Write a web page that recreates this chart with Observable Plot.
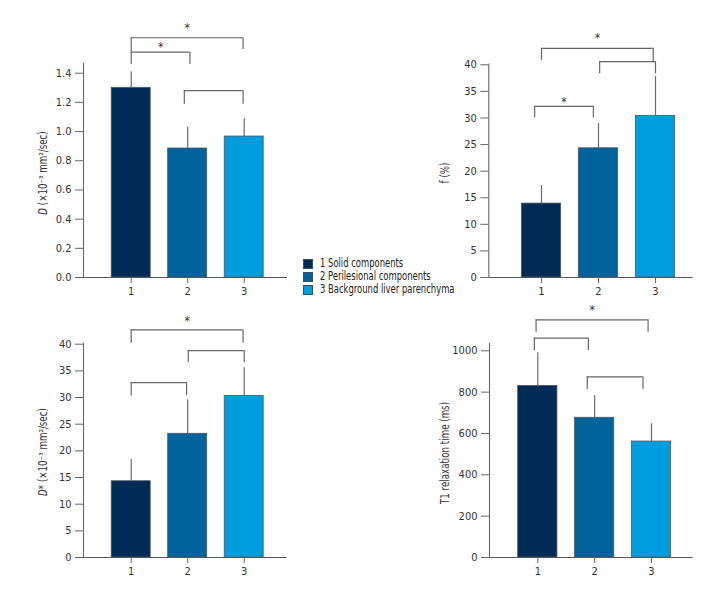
<!DOCTYPE html>
<html><head><meta charset="utf-8">
<script src="https://cdn.jsdelivr.net/npm/d3@7"></script>
<script src="https://cdn.jsdelivr.net/npm/@observablehq/plot@0.6"></script>
<style>
body{margin:0;background:#fff;}
#wrap{position:relative;width:720px;height:600px;font-family:'Liberation Sans Narrow','DejaVu Sans Condensed',sans-serif;font-stretch:condensed;color:#333;}
.panel{position:absolute;}
.ylab{position:absolute;transform:translate(-50%,-50%) rotate(-90deg) scaleX(0.84);white-space:nowrap;font-size:11.5px;color:#333;}
.legend{position:absolute;left:303px;top:257px;font-size:12px;line-height:13px;color:#222;}
.legend .row{display:flex;align-items:center;height:13px;}
.legend .txt{display:inline-block;transform:scaleX(0.78);transform-origin:left center;white-space:nowrap;}
.sw{width:8px;height:8px;border:1px solid #3a4d63;margin-right:7px;flex:none;}
</style></head><body><div id="wrap"></div>
<script>
// ---- data ----
const groups = [1, 2, 3];
const groupNames = ["Solid components", "Perilesional components", "Background liver parenchyma"];
const colors = ["#002b56", "#00639c", "#009ddc"];

// D (x10^-3 mm2/sec)
const dMean = [1.30, 0.884, 0.966];
const dSD   = [0.11, 0.146, 0.122];
const dTicks = [0, 0.2, 0.4, 0.6, 0.8, 1.0, 1.2, 1.4];
const dBrackets = [
  {a: 1, b: 2.04, y: 1.544, yA: 1.46, yB: 1.46, star: 1.597},
  {a: 1, b: 2.98, y: 1.643, yA: 1.544, yB: 1.563, star: 1.727},
  {a: 1.94, b: 2.98, y: 1.28, yA: 1.188, yB: 1.188, star: null}
];

// f (%)
const fMean = [13.9, 24.3, 30.4];
const fSD   = [3.4, 4.7, 7.4];
const fTicks = [0, 5, 10, 15, 20, 25, 30, 35, 40];
const fBrackets = [
  {a: 0.88, b: 1.91, y: 32.2, yA: 30.0, yB: 30.0, star: 33.5},
  {a: 1, b: 2.96, y: 43.1, yA: 40.8, yB: 40.6, star: 45.5},
  {a: 2.02, b: 3.0, y: 40.6, yA: 38.3, yB: 38.3, star: null}
];

// D* (x10^-3 mm2/sec)
const dsMean = [14.3, 23.2, 30.3];
const dsSD   = [4.1, 6.4, 5.3];
const dsTicks = [0, 5, 10, 15, 20, 25, 30, 35, 40];
const dsBrackets = [
  {a: 1, b: 1.98, y: 32.8, yA: 30.3, yB: 30.3, star: null},
  {a: 1, b: 2.98, y: 42.7, yA: 40.2, yB: 40.2, star: 44.8},
  {a: 2.01, b: 3.0, y: 38.8, yA: 36.5, yB: 36.5, star: null}
];

// T1 relaxation time (ms)
const tMean = [830, 676, 561];
const tSD   = [160, 106, 86];
const tTicks = [0, 200, 400, 600, 800, 1000];
const tBrackets = [
  {a: 0.94, b: 1.89, y: 1061, yA: 1001, yB: 1001, star: null},
  {a: 0.97, b: 2.94, y: 1150, yA: 1090, yB: 1090, star: 1211},
  {a: 1.87, b: 2.85, y: 874, yA: 813, yB: 813, star: null}
];

// ---- layout ----
const panels = [
  {left: 0, top: 0, mean: dMean, sd: dSD, ticks: dTicks, fmt: d3.format(".1f"), brackets: dBrackets,
   axisTop: 1.51, mL: 83, xEndPx: 287, zeroPx: 277, xr: [130.7, 243.7], yTopPx: 72.7,
   label: '<i>D</i> (×10⁻³ mm²/sec)', lx: 43, ly: 173},
  {left: 360, top: 0, mean: fMean, sd: fSD, ticks: fTicks, fmt: d3.format("d"), brackets: fBrackets,
   axisTop: 41.3, mL: 128.3, xEndPx: 332.7, zeroPx: 277, xr: [181, 295], yTopPx: 64.3,
   label: 'f (%)', lx: 445, ly: 173},
  {left: 0, top: 300, mean: dsMean, sd: dsSD, ticks: dsTicks, fmt: d3.format("d"), brackets: dsBrackets,
   axisTop: 41.3, mL: 83, xEndPx: 286.7, zeroPx: 257, xr: [130.7, 243.7], yTopPx: 43.7,
   label: '<i>D</i>* (×10⁻³ mm²/sec)', lx: 43, ly: 452},
  {left: 360, top: 300, mean: tMean, sd: tSD, ticks: tTicks, fmt: d3.format("d"), brackets: tBrackets,
   axisTop: 1066, mL: 129, xEndPx: 332.7, zeroPx: 257, xr: [177.3, 291], yTopPx: 50.3,
   label: 'T1 relaxation time (ms)', lx: 445, ly: 453}
];

const wrap = document.getElementById("wrap");
const W = 360, H = 300, halfBar = 0.345;
const font = "'Liberation Sans Narrow','DejaVu Sans Condensed',sans-serif";

for (const p of panels) {
  const rows = groups.map((g, i) => ({g, mean: p.mean[i], hi: p.mean[i] + p.sd[i], color: colors[i]}));
  const pxToX = px => 1 + (px - p.xr[0]) * 2 / (p.xr[1] - p.xr[0]);
  const xAxisVal = pxToX(p.mL), xEndVal = pxToX(p.xEndPx);
  const tickMax = p.ticks[p.ticks.length - 1];
  const br = p.brackets;
  const chart = Plot.plot({
    width: W, height: H,
    marginLeft: p.mL, marginRight: W - p.xEndPx, marginBottom: H - p.zeroPx, marginTop: 5,
    style: {fontFamily: font, fontSize: "11px", color: "#333", background: "transparent", overflow: "visible"},
    x: {type: "linear", domain: [1, 3], range: p.xr},
    y: {type: "linear", domain: [0, tickMax], range: [p.zeroPx, p.yTopPx]},
    marks: [
      Plot.rectY(rows, {x1: d => d.g - halfBar, x2: d => d.g + halfBar, y1: 0, y2: "mean", fill: "color", stroke: "#4a5866", strokeWidth: 0.8}),
      Plot.ruleX(rows, {x: "g", y1: "mean", y2: "hi", stroke: "#6b6b6b", strokeWidth: 1.2}),
      // axes
      Plot.ruleX([xAxisVal], {y1: 0, y2: p.axisTop, stroke: "#666", strokeWidth: 1.1, insetBottom: -6}),
      Plot.ruleY([0], {x1: xAxisVal, x2: xEndVal, stroke: "#555", strokeWidth: 1.1}),
      Plot.axisY({ticks: p.ticks, tickFormat: p.fmt, tickSize: 8, tickPadding: 4, stroke: "#666", fill: "#333", label: null}),
      Plot.axisX({ticks: groups, tickFormat: d3.format("d"), tickSize: 6, tickPadding: 4, stroke: "#666", fill: "#333", label: null}),
      // significance brackets
      Plot.ruleY(br, {x1: "a", x2: "b", y: "y", stroke: "#666", strokeWidth: 1.2}),
      Plot.ruleX(br, {x: "a", y1: "yA", y2: "y", stroke: "#666", strokeWidth: 1.2}),
      Plot.ruleX(br, {x: "b", y1: "yB", y2: "y", stroke: "#666", strokeWidth: 1.2}),
      Plot.text(br.filter(d => d.star != null), {x: d => (d.a + d.b) / 2, y: "star", text: () => "*", fontSize: 12, fill: "#333", dy: 3})
    ]
  });
  chart.classList.add("panel");
  chart.style.left = p.left + "px";
  chart.style.top = p.top + "px";
  wrap.appendChild(chart);
  const lab = document.createElement("div");
  lab.className = "ylab";
  lab.style.left = p.lx + "px";
  lab.style.top = p.ly + "px";
  lab.innerHTML = p.label;
  wrap.appendChild(lab);
}

// legend
const leg = document.createElement("div");
leg.className = "legend";
groups.forEach((g, i) => {
  const row = document.createElement("div");
  row.className = "row";
  const sw = document.createElement("span");
  sw.className = "sw";
  sw.style.background = colors[i];
  row.appendChild(sw);
  const t = document.createElement("span");
  t.className = "txt";
  t.textContent = g + " " + groupNames[i];
  row.appendChild(t);
  leg.appendChild(row);
});
wrap.appendChild(leg);
</script>
</body></html>
